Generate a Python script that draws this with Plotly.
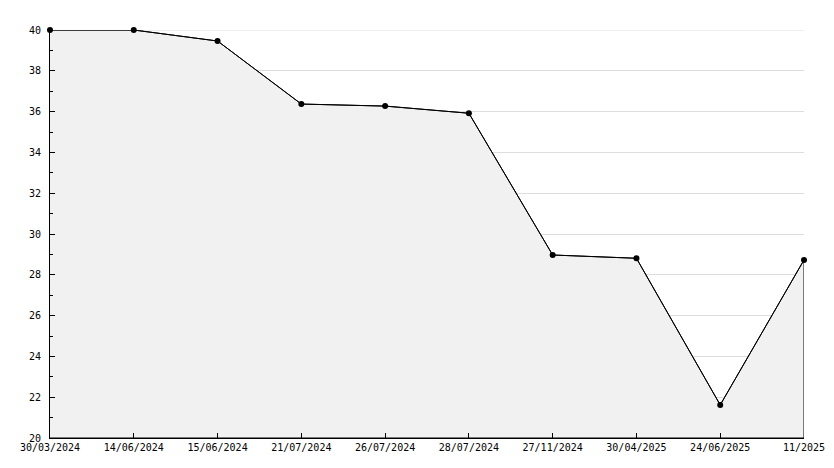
import plotly.graph_objects as go

dates = ["30/03/2024", "14/06/2024", "15/06/2024", "21/07/2024", "26/07/2024",
         "28/07/2024", "27/11/2024", "30/04/2025", "24/06/2025", "11/2025"]
values = [40.0, 40.0, 39.46, 36.37, 36.27, 35.92, 28.97, 28.81, 21.62, 28.73]
y_min, y_max = 20, 40

fig = go.Figure()
# filled area (polygon closed down to the axis baseline)
fig.add_trace(go.Scatter(
    x=dates + [dates[-1], dates[0]],
    y=values + [y_min, y_min],
    mode="lines", fill="toself", fillcolor="#f1f1f1",
    line=dict(color="black", width=1), hoverinfo="skip", showlegend=False))
fig.add_trace(go.Scatter(
    x=dates, y=values, mode="lines+markers", cliponaxis=False,
    line=dict(color="black", width=1),
    marker=dict(symbol="circle", size=6, color="black"),
    showlegend=False))

# top gridline (plotly omits the gridline at the range edge)
fig.add_shape(type="line", xref="paper", x0=0, x1=1, yref="y", y0=y_max, y1=y_max,
              line=dict(color="#dedede", width=1), layer="below")

font = dict(family="DejaVu Sans Mono", size=10, color="black")
# the page body adds an 8px offset, so margins are shifted to compensate
fig.update_layout(
    width=834, height=468,
    margin=dict(l=42, r=38, t=22, b=38),
    plot_bgcolor="white", paper_bgcolor="white",
    font=font,
    xaxis=dict(type="category", categoryorder="array", categoryarray=dates,
               range=[0, len(dates) - 1], showgrid=False, showline=True,
               linecolor="black", linewidth=1, ticks="inside", ticklen=5,
               tickcolor="black", zeroline=False, tickfont=font, automargin=False),
    yaxis=dict(range=[y_min, y_max], dtick=2, showgrid=True, gridcolor="#dedede",
               gridwidth=1, showline=True, linecolor="black", linewidth=1,
               ticks="inside", ticklen=5, tickcolor="black", zeroline=False,
               tickfont=font, automargin=False, ticklabelstandoff=6,
               minor=dict(dtick=1, ticks="inside", ticklen=3, tickcolor="black",
                          showgrid=False)),
)
fig.write_html("out.html")
